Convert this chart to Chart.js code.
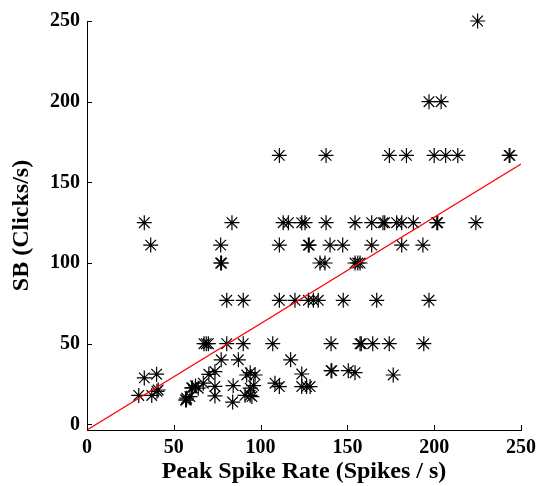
<!DOCTYPE html>
<html>
<head>
<meta charset="utf-8">
<script src="https://cdn.jsdelivr.net/npm/chart.js@4/dist/chart.umd.min.js"></script>
<style>
  html, body { margin: 0; padding: 0; background: #fff; }
  canvas { display: block; }
</style>
</head>
<body>
<canvas id="grafico" width="537" height="486"></canvas>
<script>
// peak spike rate (x) and SB (y)
const spikeRate = [
  225,
  197, 204,
  110.8, 137.7, 174.2, 184, 200, 206.6, 213.6, 243.2, 243.6,
  33, 83.5, 113, 116, 123.7, 125.6, 137.7, 154.4, 164, 170.5, 171.5, 178.4, 181.3, 188, 201.5, 202, 224,
  36.7, 77, 110.8, 127.5, 128, 140, 147.3, 164, 181.3, 193.5,
  77, 77.5, 134.2, 137.1, 154.4, 156, 157.3,
  80.5, 90, 110.8, 119.8, 127.5, 130.4, 133.2, 147.6, 166.9, 197,
  67.4, 68.7, 69.9, 80.5, 90, 107, 140.6, 157.3, 158, 164.6, 174.1, 194,
  77.3, 87.2, 117.3,
  140.6, 141, 150.5, 154.4, 176.4, 123.7, 96.8, 92, 94, 73.7, 70.2, 40.1, 33,
  60.3, 60.8, 62.5, 64.1, 67, 73.7, 84.2, 94, 96, 108.3, 110.8, 123.7, 126.5, 128.5,
  29.8, 37.3, 40.3, 41, 56.8, 57.2, 57.4, 59.3, 73.7, 83.9, 91, 94, 95
];
const clickRate = [
  250,
  200, 200,
  166.7, 166.7, 166.7, 166.7, 166.7, 166.7, 166.7, 166.7, 166.7,
  125, 125, 125, 125, 125, 125, 125, 125, 125, 125, 125, 125, 125, 125, 125, 125, 125,
  111.1, 111.1, 111.1, 111.1, 111.1, 111.1, 111.1, 111.1, 111.1, 111.1,
  100, 100, 100, 100, 100, 100, 100,
  76.9, 76.9, 76.9, 76.9, 76.9, 76.9, 76.9, 76.9, 76.9, 76.9,
  50, 50, 50, 50, 50, 50, 50, 50, 50, 50, 50, 50,
  40, 40, 40,
  33.3, 33.3, 33.3, 32, 30.6, 31.2, 30.6, 30.6, 32, 32.7, 31, 31.1, 28.8,
  22.6, 22.6, 23.8, 22.4, 25.5, 23.5, 24, 22.4, 24, 25.5, 23.4, 23.4, 23.4, 23.4,
  17.9, 17.9, 20.5, 21.3, 15.1, 15.1, 16.2, 17.2, 17.6, 13.8, 18, 18, 17.2
];

// regression line end points
const fitX = [0, 250];
const fitY = [-3.5, 161.4];

const xTicks = [0, 50, 100, 150, 200, 250];
const yTicks = [0, 50, 100, 150, 200, 250];

const fonte = { family: "'Liberation Serif', 'DejaVu Serif', serif", size: 20, weight: "bold" };
const fonteTitulo = { family: fonte.family, size: 24, weight: "bold" };

// MATLAB style ticks pointing into the axes
const ticksParaDentro = {
  id: "ticksParaDentro",
  afterDraw(chart) {
    const ctx = chart.ctx;
    const a = chart.chartArea;
    const sx = chart.scales.x;
    const sy = chart.scales.y;
    ctx.save();
    ctx.strokeStyle = "#000";
    ctx.lineWidth = 1;
    ctx.beginPath();
    xTicks.forEach((v) => {
      const p = Math.round(sx.getPixelForValue(v)) + 0.5;
      ctx.moveTo(p, a.bottom);
      ctx.lineTo(p, a.bottom - 5);
    });
    yTicks.forEach((v) => {
      const p = Math.round(sy.getPixelForValue(v)) + 0.5;
      ctx.moveTo(a.left, p);
      ctx.lineTo(a.left + 5, p);
    });
    ctx.stroke();
    ctx.restore();
  },
};

const ctx = document.getElementById("grafico").getContext("2d");

new Chart(ctx, {
  type: "scatter",
  data: {
    datasets: [
      {
        type: "line",
        data: fitX.map((x, i) => ({ x: x, y: fitY[i] })),
        borderColor: "#ff0000",
        borderWidth: 1.2,
        pointRadius: 0,
        fill: false,
        order: 0,
      },
      {
        data: spikeRate.map((x, i) => ({ x: x, y: clickRate[i] })),
        pointStyle: "star",
        pointRadius: 7.5,
        borderColor: "#000",
        backgroundColor: "rgba(0,0,0,0)",
        borderWidth: 1.2,
        clip: false,
        order: 1,
      },
    ],
  },
  options: {
    responsive: false,
    animation: false,
    maintainAspectRatio: false,
    devicePixelRatio: 1,
    layout: { padding: { top: 21, right: 16, left: 0, bottom: 0 } },
    plugins: { legend: { display: false }, tooltip: { enabled: false } },
    scales: {
      x: {
        type: "linear",
        min: 0,
        max: 250,
        afterBuildTicks: (s) => { s.ticks = xTicks.map((v) => ({ value: v })); },
        afterFit: (s) => { s.height = 56; s.paddingRight = 16; s.paddingLeft = 0; },
        grid: { display: false, drawTicks: false },
        border: { display: true, color: "#000", width: 1 },
        ticks: { color: "#000", font: fonte, padding: 6, maxRotation: 0 },
        title: {
          display: true,
          text: "Peak Spike Rate (Spikes / s)",
          color: "#000",
          font: fonteTitulo,
          padding: { top: 0, bottom: 0 },
        },
      },
      y: {
        type: "linear",
        min: -3.5,
        max: 250,
        afterBuildTicks: (s) => { s.ticks = yTicks.map((v) => ({ value: v })); },
        afterFit: (s) => { s.width = 87; },
        grid: { display: false, drawTicks: false },
        border: { display: true, color: "#000", width: 1 },
        ticks: { color: "#000", font: fonte, padding: 7 },
        title: {
          display: true,
          text: "SB (Clicks/s)",
          color: "#000",
          font: fonteTitulo,
          padding: { top: 7, bottom: 0 },
        },
      },
    },
  },
  plugins: [ticksParaDentro],
});
</script>
</body>
</html>
